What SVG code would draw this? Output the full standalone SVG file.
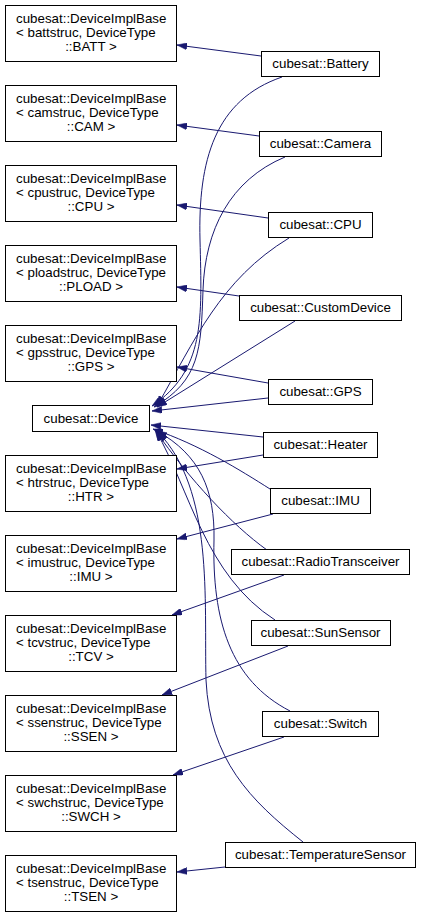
<svg xmlns="http://www.w3.org/2000/svg" width="421" height="917" viewBox="0 0 421 917">
<style>
.box{fill:#fff;stroke:#000;stroke-width:1}
text{font-family:"Liberation Sans",Arial,Helvetica,sans-serif;font-size:13.33px;fill:#000}
.l{text-anchor:start}
.c{text-anchor:middle}
.e{fill:none;stroke:#191970;stroke-width:1;marker-end:url(#arr)}
</style>
<defs>
<marker id="arr" viewBox="0 0 10 7" refX="10" refY="3.5" markerWidth="10" markerHeight="7" markerUnits="userSpaceOnUse" orient="auto">
<path d="M0,0 L10,3.5 L0,7 z" fill="#191970" stroke="#191970" stroke-width="0.5"/>
</marker>
</defs>
<rect width="421" height="917" fill="#fff"/>
<g id="connectors">
<path class="e" d="M261,56 L177,45"/>
<path class="e" d="M259,136 L177,125"/>
<path class="e" d="M268,218 L177,205"/>
<path class="e" d="M239,296 L177,287"/>
<path class="e" d="M268,383 L177,367"/>
<path class="e" d="M263,455 L177,469"/>
<path class="e" d="M273,514 L177,539"/>
<path class="e" d="M284,575 L172,615"/>
<path class="e" d="M288,646 L162,695"/>
<path class="e" d="M284,737 L173,775"/>
<path class="e" d="M225,867 L177,872"/>
<path class="e" d="M282,77 C215,100 198,160 200,240 C202,320 205,370 152,406"/>
<path class="e" d="M285,157 C230,180 205,230 203,290 C201,350 200,380 154,407"/>
<path class="e" d="M289,238 C220,280 195,340 157,406"/>
<path class="e" d="M295,321 L157,407"/>
<path class="e" d="M268,398 L152,411"/>
<path class="e" d="M263,437 L151,425"/>
<path class="e" d="M270,489 C240,470 200,445 153,429"/>
<path class="e" d="M267,550 C232,525 190,480 155,430"/>
<path class="e" d="M275,620 C205,575 190,490 156,431"/>
<path class="e" d="M290,711 C230,680 212,620 214,540 C215,490 200,455 157,431"/>
<path class="e" d="M303,842 C250,800 210,760 206,680 C204,600 214,490 158,432"/>
</g>
<g id="base_batt"><rect class="box" x="5.5" y="5.5" width="171" height="56"/><text class="l" x="16" y="22.5">cubesat::DeviceImplBase</text><text class="l" x="16" y="36.5">&lt; battstruc, DeviceType</text><text class="c" x="91" y="50.5">::BATT &gt;</text></g>
<g id="base_cam"><rect class="box" x="5.5" y="85.5" width="171" height="56"/><text class="l" x="16" y="102.5">cubesat::DeviceImplBase</text><text class="l" x="16" y="116.5">&lt; camstruc, DeviceType</text><text class="c" x="91" y="130.5">::CAM &gt;</text></g>
<g id="base_cpu"><rect class="box" x="5.5" y="165.5" width="171" height="56"/><text class="l" x="16" y="182.5">cubesat::DeviceImplBase</text><text class="l" x="16" y="196.5">&lt; cpustruc, DeviceType</text><text class="c" x="91" y="210.5">::CPU &gt;</text></g>
<g id="base_pload"><rect class="box" x="5.5" y="245.5" width="171" height="56"/><text class="l" x="16" y="262.5">cubesat::DeviceImplBase</text><text class="l" x="16" y="276.5">&lt; ploadstruc, DeviceType</text><text class="c" x="91" y="290.5">::PLOAD &gt;</text></g>
<g id="base_gps"><rect class="box" x="5.5" y="325.5" width="171" height="56"/><text class="l" x="16" y="342.5">cubesat::DeviceImplBase</text><text class="l" x="16" y="356.5">&lt; gpsstruc, DeviceType</text><text class="c" x="91" y="370.5">::GPS &gt;</text></g>
<g id="device"><rect class="box" x="32.5" y="405.5" width="117" height="26"/><text class="c" x="91" y="422.5">cubesat::Device</text></g>
<g id="base_htr"><rect class="box" x="5.5" y="455.5" width="171" height="56"/><text class="l" x="16" y="472.5">cubesat::DeviceImplBase</text><text class="l" x="16" y="486.5">&lt; htrstruc, DeviceType</text><text class="c" x="91" y="500.5">::HTR &gt;</text></g>
<g id="base_imu"><rect class="box" x="5.5" y="535.5" width="171" height="56"/><text class="l" x="16" y="552.5">cubesat::DeviceImplBase</text><text class="l" x="16" y="566.5">&lt; imustruc, DeviceType</text><text class="c" x="91" y="580.5">::IMU &gt;</text></g>
<g id="base_tcv"><rect class="box" x="5.5" y="615.5" width="171" height="56"/><text class="l" x="16" y="632.5">cubesat::DeviceImplBase</text><text class="l" x="16" y="646.5">&lt; tcvstruc, DeviceType</text><text class="c" x="91" y="660.5">::TCV &gt;</text></g>
<g id="base_ssen"><rect class="box" x="5.5" y="695.5" width="171" height="56"/><text class="l" x="16" y="712.5">cubesat::DeviceImplBase</text><text class="l" x="16" y="726.5">&lt; ssenstruc, DeviceType</text><text class="c" x="91" y="740.5">::SSEN &gt;</text></g>
<g id="base_swch"><rect class="box" x="5.5" y="775.5" width="171" height="56"/><text class="l" x="16" y="792.5">cubesat::DeviceImplBase</text><text class="l" x="16" y="806.5">&lt; swchstruc, DeviceType</text><text class="c" x="91" y="820.5">::SWCH &gt;</text></g>
<g id="base_tsen"><rect class="box" x="5.5" y="855.5" width="171" height="56"/><text class="l" x="16" y="872.5">cubesat::DeviceImplBase</text><text class="l" x="16" y="886.5">&lt; tsenstruc, DeviceType</text><text class="c" x="91" y="900.5">::TSEN &gt;</text></g>
<g id="battery"><rect class="box" x="261.5" y="51.5" width="118" height="25"/><text class="c" x="320.5" y="68">cubesat::Battery</text></g>
<g id="camera"><rect class="box" x="259.5" y="131.5" width="122" height="25"/><text class="c" x="320.5" y="148">cubesat::Camera</text></g>
<g id="cpu"><rect class="box" x="268.5" y="212.5" width="104" height="25"/><text class="c" x="320.5" y="229">cubesat::CPU</text></g>
<g id="customdevice"><rect class="box" x="239.5" y="295.5" width="162" height="25"/><text class="c" x="320.5" y="312">cubesat::CustomDevice</text></g>
<g id="gps"><rect class="box" x="268.5" y="379.5" width="104" height="25"/><text class="c" x="320.5" y="396">cubesat::GPS</text></g>
<g id="heater"><rect class="box" x="263.5" y="432.5" width="114" height="25"/><text class="c" x="320.5" y="449">cubesat::Heater</text></g>
<g id="imu"><rect class="box" x="270.5" y="488.5" width="100" height="25"/><text class="c" x="320.5" y="505">cubesat::IMU</text></g>
<g id="radiotransceiver"><rect class="box" x="231.5" y="549.5" width="178" height="25"/><text class="c" x="320.5" y="566">cubesat::RadioTransceiver</text></g>
<g id="sunsensor"><rect class="box" x="251.5" y="620.5" width="139" height="25"/><text class="c" x="320.5" y="637">cubesat::SunSensor</text></g>
<g id="switch"><rect class="box" x="262.5" y="711.5" width="116" height="25"/><text class="c" x="320.5" y="728">cubesat::Switch</text></g>
<g id="temperaturesensor"><rect class="box" x="225.5" y="842.5" width="190" height="25"/><text class="c" x="320.5" y="859">cubesat::TemperatureSensor</text></g>
</svg>
